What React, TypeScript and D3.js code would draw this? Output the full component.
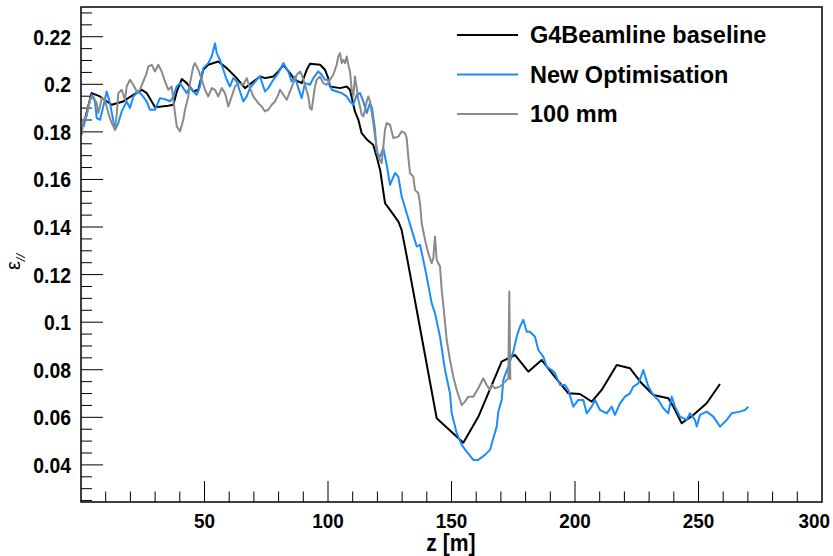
import React from "react";
import * as d3 from "d3";

const blackZ = [1, 4.3, 7.7, 12.4, 17.1, 21.2, 24.6, 26.6, 30.0, 35.3, 37.4, 38.8, 40.8, 42.8, 45.5, 47.5, 49.5, 51.5, 55.6, 59.0, 62.4, 66.4, 72.5, 74.5, 77.9, 79.9, 81.9, 84.6, 86.6, 89.4, 91.4, 92.7, 96.8, 98.8, 100.1, 100.8, 104.9, 107.6, 108.9, 110.9, 112.3, 113.6, 115.8, 118.3, 119.7, 121.1, 123.1, 125.1, 128.5, 129.8, 131.9, 133.9, 135.9, 144.0, 154.8, 160.9, 170.3, 175.7, 181.1, 186.5, 191.2, 197.3, 202.0, 206.8, 210.8, 216.9, 222.3, 227.0, 231.7, 237.8, 239.8, 243.2, 247.9, 253.3, 258.7];
const blackE = [0.183, 0.1963, 0.1949, 0.1914, 0.1928, 0.1956, 0.1977, 0.1963, 0.1904, 0.1910, 0.1914, 0.1970, 0.2022, 0.2005, 0.1970, 0.1977, 0.2061, 0.2082, 0.2096, 0.2068, 0.2033, 0.1984, 0.2033, 0.2026, 0.2033, 0.2054, 0.2082, 0.2047, 0.2019, 0.2005, 0.2061, 0.2086, 0.2082, 0.2061, 0.2026, 0.1991, 0.1984, 0.1991, 0.1977, 0.1886, 0.1851, 0.1795, 0.1767, 0.1746, 0.1696, 0.1640, 0.1500, 0.1472, 0.1423, 0.1388, 0.1276, 0.1164, 0.1052, 0.0596, 0.0493, 0.0603, 0.0834, 0.0862, 0.0792, 0.0841, 0.0778, 0.0701, 0.0698, 0.0666, 0.0715, 0.0820, 0.0806, 0.0743, 0.0694, 0.0680, 0.0645, 0.0575, 0.0610, 0.0659, 0.0740];

const blueZ = [1.0, 2.96, 4.33, 5.67, 6.36, 7.69, 9.03, 10.4, 11.74, 13.77, 15.1, 16.48, 18.5, 19.84, 21.17, 23.2, 24.57, 26.6, 27.94, 29.96, 31.98, 34.7, 36.03, 37.37, 38.75, 40.08, 41.42, 42.79, 44.13, 45.47, 46.84, 48.18, 49.51, 51.54, 52.92, 54.25, 54.94, 56.28, 57.61, 58.99, 60.32, 61.66, 63.04, 64.37, 65.71, 67.09, 68.42, 71.13, 72.47, 74.49, 75.83, 77.85, 79.88, 81.26, 81.9, 83.93, 85.3, 86.64, 87.98, 89.35, 90.69, 92.71, 94.05, 96.07, 97.45, 98.79, 100.12, 101.5, 103.52, 105.55, 107.57, 108.91, 110.24, 111.62, 112.96, 114.29, 115.67, 117.0, 117.81, 119.03, 119.72, 121.05, 122.39, 123.77, 125.1, 127.13, 128.46, 129.84, 131.86, 133.89, 135.91, 137.25, 138.58, 139.96, 141.98, 143.32, 145.35, 147.37, 149.39, 150.08, 152.11, 154.13, 156.15, 158.83, 160.85, 163.56, 165.59, 166.92, 168.3, 168.95, 170.32, 170.97, 173.0, 175.02, 176.4, 177.73, 179.07, 180.45, 181.78, 183.81, 185.14, 187.17, 188.54, 190.57, 191.9, 193.93, 195.95, 197.29, 199.31, 201.34, 203.36, 204.74, 206.76, 208.1, 210.12, 212.83, 214.86, 216.19, 218.22, 220.24, 222.27, 223.6, 225.63, 227.0, 227.65, 229.68, 231.7, 233.72, 235.75, 237.77, 239.15, 240.49, 242.51, 245.22, 246.56, 248.58, 249.27, 250.61, 253.32, 255.99, 258.71, 261.42, 263.44, 266.8, 268.83, 270.16];
const blueE = [0.1820, 0.1907, 0.1956, 0.1928, 0.1858, 0.1851, 0.1907, 0.1970, 0.1921, 0.1809, 0.1837, 0.1886, 0.1928, 0.1900, 0.1949, 0.1970, 0.1956, 0.1928, 0.1893, 0.1893, 0.1942, 0.1935, 0.1928, 0.1949, 0.1991, 0.2005, 0.1984, 0.1963, 0.1991, 0.1970, 0.1956, 0.1991, 0.2068, 0.2089, 0.2117, 0.2173, 0.2131, 0.2103, 0.2061, 0.2019, 0.1991, 0.2026, 0.2012, 0.1970, 0.1928, 0.1949, 0.1984, 0.2019, 0.2033, 0.1970, 0.1984, 0.2019, 0.2047, 0.2075, 0.2089, 0.2054, 0.2012, 0.2033, 0.1984, 0.1942, 0.2005, 0.1998, 0.2026, 0.2054, 0.2040, 0.2019, 0.2019, 0.1977, 0.1970, 0.1963, 0.1949, 0.1928, 0.1914, 0.1956, 0.1963, 0.1928, 0.1879, 0.1921, 0.1901, 0.1809, 0.1711, 0.1696, 0.1732, 0.1661, 0.1577, 0.1627, 0.1612, 0.1528, 0.1458, 0.1388, 0.1318, 0.1325, 0.1262, 0.1192, 0.1080, 0.1038, 0.0939, 0.0799, 0.0701, 0.0617, 0.0533, 0.0484, 0.0456, 0.0421, 0.0421, 0.0442, 0.0463, 0.0512, 0.0561, 0.0624, 0.0673, 0.0757, 0.0813, 0.0876, 0.0939, 0.0981, 0.1010, 0.0960, 0.0960, 0.0939, 0.0883, 0.0855, 0.0813, 0.0799, 0.0785, 0.0736, 0.0736, 0.0715, 0.0645, 0.0673, 0.0673, 0.0617, 0.0645, 0.0673, 0.0631, 0.0617, 0.0645, 0.0610, 0.0659, 0.0687, 0.0701, 0.0729, 0.0743, 0.0778, 0.0799, 0.0729, 0.0694, 0.0673, 0.0638, 0.0617, 0.0687, 0.0645, 0.0603, 0.0589, 0.0617, 0.0589, 0.0561, 0.0610, 0.0624, 0.0603, 0.0561, 0.0589, 0.0617, 0.0624, 0.0631, 0.0645];

const grayZ = [0.4, 0.93, 2.31, 2.96, 3.64, 4.98, 6.36, 7.0, 7.69, 8.38, 9.72, 11.05, 12.43, 13.77, 14.45, 15.1, 16.48, 17.81, 18.5, 19.84, 21.17, 22.55, 23.89, 25.22, 26.6, 27.25, 28.62, 29.96, 31.3, 32.67, 34.01, 35.34, 36.72, 37.37, 38.06, 38.75, 40.08, 41.42, 42.11, 43.44, 44.13, 45.47, 46.15, 47.49, 48.87, 50.2, 51.54, 52.92, 54.25, 55.59, 56.96, 58.3, 59.64, 61.01, 62.35, 63.69, 65.71, 67.09, 68.42, 69.76, 71.78, 73.16, 74.49, 75.83, 77.21, 78.54, 79.88, 80.57, 81.9, 83.28, 84.62, 85.95, 87.33, 88.66, 89.35, 90.69, 92.02, 92.71, 93.4, 94.05, 94.74, 95.43, 96.76, 98.1, 99.47, 100.81, 102.14, 103.52, 104.17, 104.86, 105.55, 106.19, 106.88, 107.57, 108.22, 108.91, 109.6, 110.24, 110.93, 111.62, 112.27, 112.96, 113.64, 114.29, 114.98, 115.67, 116.32, 117.0, 118.34, 119.03, 120.36, 121.74, 122.39, 123.08, 123.77, 125.1, 126.44, 128.46, 129.84, 131.17, 131.86, 132.51, 133.2, 134.53, 135.22, 136.56, 137.25, 137.94, 139.27, 140.61, 141.98, 142.63, 143.32, 144.01, 145.35, 146.03, 146.68, 148.06, 149.39, 150.73, 152.11, 153.44, 154.13, 155.47, 156.8, 158.83, 160.85, 162.88, 164.25, 165.59, 166.28, 167.61, 169.64, 171.66, 173.0, 173.4, 173.81];
const grayE = [0.1788, 0.1851, 0.1865, 0.1900, 0.1935, 0.1949, 0.1921, 0.1879, 0.1907, 0.1942, 0.1935, 0.1879, 0.1837, 0.1809, 0.1872, 0.1963, 0.1977, 0.1935, 0.1991, 0.2019, 0.1998, 0.1970, 0.1977, 0.2012, 0.2047, 0.2075, 0.2082, 0.2054, 0.2082, 0.2054, 0.2012, 0.1977, 0.1991, 0.1935, 0.1879, 0.1823, 0.1802, 0.1851, 0.1893, 0.1949, 0.2005, 0.2075, 0.2089, 0.2061, 0.2019, 0.1977, 0.1949, 0.1984, 0.1977, 0.1949, 0.1984, 0.1963, 0.1907, 0.1949, 0.1991, 0.2005, 0.1998, 0.2026, 0.1984, 0.1949, 0.1921, 0.1907, 0.1886, 0.1893, 0.1914, 0.1928, 0.1956, 0.1977, 0.1956, 0.1935, 0.1970, 0.2005, 0.2040, 0.2054, 0.2040, 0.1998, 0.1949, 0.1900, 0.1893, 0.1942, 0.1991, 0.2019, 0.2033, 0.2005, 0.1998, 0.2019, 0.2040, 0.2082, 0.2117, 0.2131, 0.2089, 0.2103, 0.2089, 0.2117, 0.2082, 0.2054, 0.1977, 0.1949, 0.2033, 0.1984, 0.1935, 0.1907, 0.1872, 0.1865, 0.1893, 0.1928, 0.1949, 0.1928, 0.1837, 0.1780, 0.1696, 0.1669, 0.1738, 0.1809, 0.1837, 0.1830, 0.1774, 0.1780, 0.1802, 0.1795, 0.1774, 0.1696, 0.1627, 0.1612, 0.1556, 0.1542, 0.1500, 0.1416, 0.1346, 0.1290, 0.1248, 0.1269, 0.1360, 0.1262, 0.1234, 0.1136, 0.1073, 0.0925, 0.0841, 0.0771, 0.0715, 0.0673, 0.0652, 0.0666, 0.0687, 0.0687, 0.0722, 0.0764, 0.0736, 0.0715, 0.0736, 0.0722, 0.0729, 0.0750, 0.0764, 0.1129, 0.0757];

const seriesNames = ["G4Beamline baseline", "New Optimisation", "100 mm"];
const seriesColors = ["#000000", "#1a8cff", "#8a8a8a"];

const xMajorTicks = [50, 100, 150, 200, 250, 300];
const yMajorTicks = [0.04, 0.06, 0.08, 0.1, 0.12, 0.14, 0.16, 0.18, 0.2, 0.22];

const W = 833;
const H = 556;
const FONT = "'Liberation Sans', Arial, Helvetica, sans-serif";

export default function App() {
  const left = 81, right = 822, top = 7, bottom = 502;
  const x = d3.scaleLinear().domain([0, 300]).range([left, right]);
  const y = d3.scaleLinear().domain([0.0244, 0.2325]).range([bottom, top]);

  const series = [
    { z: blackZ, e: blackE },
    { z: blueZ, e: blueE },
    { z: grayZ, e: grayE },
  ];
  const line = d3
    .line<[number, number]>()
    .x((d) => x(d[0]))
    .y((d) => y(d[1]));

  const xMinor = d3.range(1, 30).map((i) => i * 10);
  const yMinor = d3.range(5, 47).map((i) => i * 0.005);

  return (
    <svg
      width={W}
      height={H}
      style={{ position: "absolute", left: 0, top: 0, background: "#fff" }}
      fontFamily={FONT}
    >
      <rect x={0} y={0} width={W} height={H} fill="#fff" />
      <defs>
        <clipPath id="plotclip">
          <rect x={left} y={top} width={right - left} height={bottom - top} />
        </clipPath>
      </defs>
      {yMinor.map((v, i) => {
        const major = yMajorTicks.some((m) => Math.abs(m - v) < 1e-6);
        return (
          <line
            key={"ym" + i}
            x1={left}
            x2={left + (major ? 22 : 11)}
            y1={y(v)}
            y2={y(v)}
            stroke="#000"
            strokeWidth={1}
          />
        );
      })}
      {xMinor.map((v, i) => {
        const major = xMajorTicks.includes(v);
        return (
          <line
            key={"xm" + i}
            x1={x(v)}
            x2={x(v)}
            y1={bottom}
            y2={bottom - (major ? 21 : 10.5)}
            stroke="#000"
            strokeWidth={1}
          />
        );
      })}
      <g clipPath="url(#plotclip)">
        {series.map((s, k) => (
          <path
            key={"s" + k}
            d={line(s.z.map((z, i) => [z, s.e[i]] as [number, number])) || ""}
            fill="none"
            stroke={seriesColors[k]}
            strokeWidth={2}
            strokeLinejoin="round"
          />
        ))}
      </g>
      <rect
        x={left}
        y={top}
        width={right - left}
        height={bottom - top}
        fill="none"
        stroke="#000"
        strokeWidth={1.5}
      />
      {yMajorTicks.map((v) => (
        <text
          key={"yl" + v}
          transform={`translate(71,${y(v)}) scale(0.88,1)`}
          dy="0.36em"
          textAnchor="end"
          fontSize={22}
          fontWeight="bold"
        >
          {String(+v.toFixed(2))}
        </text>
      ))}
      {xMajorTicks.map((v) => {
        const last = v === 300;
        return (
          <text
            key={"xl" + v}
            transform={`translate(${last ? 830 : x(v)},528) scale(0.9,1)`}
            textAnchor={last ? "end" : "middle"}
            fontSize={21}
            fontWeight="bold"
          >
            {v}
          </text>
        );
      })}
      <text transform="translate(451,551) scale(0.92,1)" textAnchor="middle" fontSize={23} fontWeight="bold">
        z [m]
      </text>
      <text
        transform="translate(20,262) rotate(-90)"
        textAnchor="middle"
        fontSize={20}
      >
        ε<tspan fontSize={13} dy={5} fontStyle="italic">//</tspan>
      </text>
      {seriesNames.map((n, k) => {
        const ly = 35 + k * 39.5;
        return (
          <g key={"lg" + k}>
            <line x1={457} x2={518} y1={ly} y2={ly} stroke={seriesColors[k]} strokeWidth={2} />
            <text x={530} y={ly + 8} fontSize={23.5} fontWeight="bold">
              {n}
            </text>
          </g>
        );
      })}
    </svg>
  );
}
